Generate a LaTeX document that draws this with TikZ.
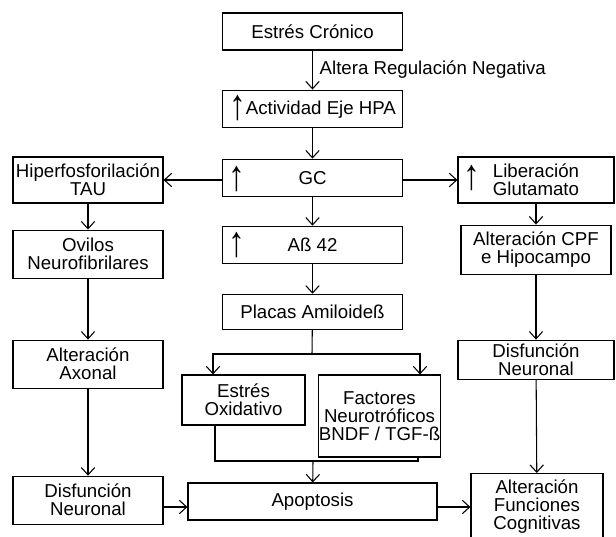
\documentclass[tikz,border=0pt]{standalone}
\usepackage{fontspec}
\setmainfont{Liberation Sans}
\usetikzlibrary{arrows.meta}
\usetikzlibrary{positioning}

\newcommand{\upglyph}{\raisebox{-4pt}{\scalebox{1.8}[2.3]{↑}}}

\begin{document}
\begin{tikzpicture}[
    x=0.75pt, y=-0.75pt,
    every node/.style={font=\fontsize{14}{13.5}\selectfont},
    box/.style={draw, rectangle, align=center, inner sep=0pt, line width=0.8pt},
    wide/.style={box, minimum width=135.5pt, minimum height=27.75pt},
    side/.style={box, minimum width=112.5pt, minimum height=36pt},
    up/.style={inner sep=0pt},
    conn/.style={draw, line width=0.8pt, -{Straight Barb[length=5.5pt, width=10pt]}},
    link/.style={draw, line width=0.8pt}
]
    \useasboundingbox (0,0) rectangle (616,536);

    % Centre column
    \node[wide] (cronico) at (312.5,31.5) {Estrés Crónico};
    \node[wide, below=29.25pt of cronico] (hpa) {\upglyph Actividad Eje HPA};
    \node[wide, below=23.25pt of hpa] (gc) {GC};
    \node[wide, below=21.75pt of gc] (ab42) {Aß 42};
    \node[wide, below=22.5pt of ab42, minimum height=26.25pt] (placas) {Placas Amiloideß};

    \node[up] (gcup) at (237,179) {\upglyph};
    \node[up] (abup) at (237,245) {\upglyph};

    \draw[conn] (cronico) -- (hpa) node[midway, right=5pt, inner sep=0pt] (altera) {Altera Regulación Negativa};
    \draw[conn] (hpa) -- (gc);
    \draw[conn] (gc) -- (ab42);
    \draw[conn] (ab42) -- (placas);

    % Left column
    \node[side, minimum height=34.5pt] (hiper) at (88,180) {Hiperfosforilación\\TAU};
    \node[side, below=19.5pt of hiper] (ovilos) {Ovilos\\Neurofibrilares};
    \node[side, below=45.75pt of ovilos] (axonal) {Alteración\\Axonal};
    \node[side, below=65.25pt of axonal] (disfL) {Disfunción\\Neuronal};

    \draw[conn] (gc.west |- hiper) -- (hiper);
    \draw[conn] (hiper) -- (ovilos);
    \draw[conn] (ovilos) -- (axonal);
    \draw[conn] (axonal) -- (disfL);

    % Right column
    \node[side, minimum width=117pt, minimum height=34.5pt] (liber) at (536,180) {Liberación\\Glutamato};
    \node[up] (liberup) at (472,178) {\upglyph};
    \node[side, below=15.75pt of liber, minimum height=36.75pt] (cpf) {Alteración CPF\\e Hipocampo};
    \node[side, below=48.75pt of cpf, minimum width=117pt, minimum height=29.25pt] (disfR) {Disfunción\\Neuronal};
    \node[box, minimum width=99pt, minimum height=49.5pt, anchor=north] (funciones) at (537,473) {Alteración\\Funciones\\Cognitivas};

    \draw[conn] (gc.east |- liber) -- (liber);
    \draw[conn] (liber) -- (cpf);
    \draw[conn] (cpf) -- (disfR);
    \draw[conn] (disfR) -- (funciones);

    % Split below the plaques
    \node[box, minimum width=92.25pt, minimum height=37.5pt] (estres) at (243.5,400) {Estrés\\Oxidativo};
    \node[box, minimum width=89.25pt, minimum height=61.5pt] (factores) at (379.5,416) {Factores\\Neurotróficos\\BNDF / TGF-ß};

    \coordinate (split) at (312,354);
    \coordinate (splitL) at (213,354);
    \coordinate (splitR) at (420,354);
    \draw[link] (placas) -- (split);
    \draw[conn] (split) -- (splitL) -- (splitL |- estres.north);
    \draw[conn] (split) -- (splitR) -- (splitR |- factores.north);

    % Bottom row
    \node[box, minimum width=186.75pt, minimum height=27.75pt] (apoptosis) at (312.5,501.5) {Apoptosis};

    \coordinate (join) at (313,461);
    \coordinate (joinL) at (215,461);
    \coordinate (joinR) at (418,461);
    \draw[link] (estres.south -| joinL) -- (joinL) -- (joinR) -- (factores.south -| joinR);
    \draw[conn] (join) -- (apoptosis);

    \coordinate (row) at (0,507);
    \draw[conn] (disfL.east |- row) -- (apoptosis.west |- row);
    \draw[conn] (apoptosis.east |- row) -- (funciones.west |- row);

\end{tikzpicture}
\end{document}
